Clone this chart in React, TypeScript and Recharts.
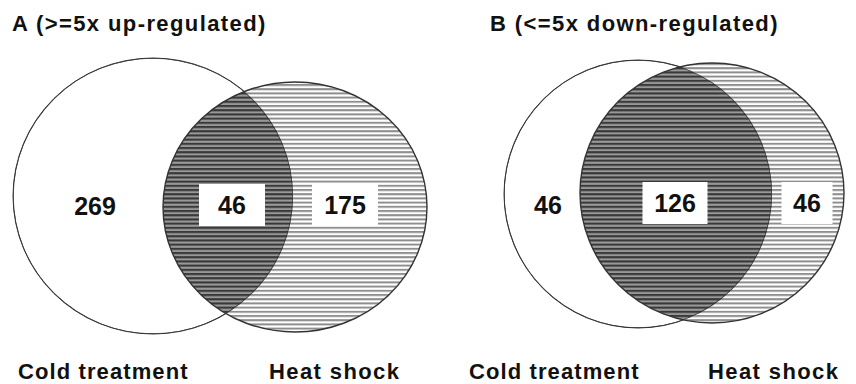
import React from 'react';
import { ScatterChart, Scatter, XAxis, YAxis } from 'recharts';

// set names and counts (cold only, both, heat only)
const panelTitles = ['A (>=5x up-regulated)', 'B (<=5x down-regulated)'];
const setNames = ['Cold treatment', 'Heat shock'];
const upCounts = [269, 46, 175];
const downCounts = [46, 126, 46];
const panelCounts = [upCounts, downCounts];

const W = 856;
const H = 384;
const FONT = '"Liberation Sans", Arial, Helvetica, sans-serif';

// layout of each panel, in chart units (1 unit = 1px)
const layout = [
  {
    cold: { cx: 153, cy: 196, rx: 140, ry: 138 },
    heat: { cx: 295, cy: 207, rx: 132, ry: 125 },
    labels: [
      { x: 95, y: 206, box: 0 },
      { x: 232, y: 205, box: 66 },
      { x: 345, y: 205, box: 66 },
    ],
    title: { x: 12, y: 31 },
    names: [{ x: 18 }, { x: 269 }],
  },
  {
    cold: { cx: 638, cy: 194, rx: 134, ry: 134 },
    heat: { cx: 712, cy: 193, rx: 132, ry: 130 },
    labels: [
      { x: 548, y: 205, box: 0 },
      { x: 675, y: 203, box: 65 },
      { x: 807, y: 203, box: 51 },
    ],
    title: { x: 490, y: 31 },
    names: [{ x: 469 }, { x: 708 }],
  },
];

const circleData = layout.flatMap((p, i) => [
  { x: p.cold.cx, y: p.cold.cy, panel: i, role: 'cold' },
  { x: p.heat.cx, y: p.heat.cy, panel: i, role: 'heat' },
]);

const countData = layout.flatMap((p, i) =>
  p.labels.map((l, j) => ({ x: l.x, y: l.y, value: panelCounts[i][j], box: l.box }))
);

const textData = layout.flatMap((p, i) => [
  { x: p.title.x, y: p.title.y, text: panelTitles[i], size: 22, spacing: 1.4 },
  { x: p.names[0].x, y: 379, text: setNames[0], size: 22, spacing: 1.1 },
  { x: p.names[1].x, y: 379, text: setNames[1], size: 22, spacing: 1.4 },
]);

const Patterns = () => (
  <defs>
    <pattern id="stripeLight" patternUnits="userSpaceOnUse" width="8" height="4.2">
      <rect x="0" y="0" width="8" height="4.2" fill="#ffffff" />
      <rect x="0" y="0" width="8" height="2" fill="#8e8e8e" />
    </pattern>
    <pattern id="stripeDark" patternUnits="userSpaceOnUse" width="8" height="4.2">
      <rect x="0" y="0" width="8" height="4.2" fill="#999999" />
      <rect x="0" y="0" width="8" height="2.1" fill="#383838" />
    </pattern>
  </defs>
);

const CircleShape = (props: any) => {
  const { cx, cy, payload } = props;
  const p = layout[payload.panel];
  if (payload.role === 'cold') {
    return (
      <g>
        {payload.panel === 0 && <Patterns />}
        <ellipse cx={cx} cy={cy} rx={p.cold.rx} ry={p.cold.ry} fill="#fff" stroke="#333" strokeWidth={1} />
      </g>
    );
  }
  const ox = cx + (p.cold.cx - p.heat.cx);
  const oy = cy + (p.cold.cy - p.heat.cy);
  const clipId = `clipCold${payload.panel}`;
  return (
    <g>
      <defs>
        <clipPath id={clipId}>
          <ellipse cx={ox} cy={oy} rx={p.cold.rx} ry={p.cold.ry} />
        </clipPath>
      </defs>
      <ellipse cx={cx} cy={cy} rx={p.heat.rx} ry={p.heat.ry} fill="url(#stripeLight)" />
      <ellipse cx={cx} cy={cy} rx={p.heat.rx} ry={p.heat.ry} fill="url(#stripeDark)" clipPath={`url(#${clipId})`} />
      <ellipse cx={ox} cy={oy} rx={p.cold.rx} ry={p.cold.ry} fill="none" stroke="#333" strokeWidth={1.4} clipPath={`url(#${clipId})`} />
      <ellipse cx={cx} cy={cy} rx={p.heat.rx} ry={p.heat.ry} fill="none" stroke="#333" strokeWidth={1.4} />
    </g>
  );
};

const CountShape = (props: any) => {
  const { cx, cy, payload } = props;
  return (
    <g>
      {payload.box > 0 && (
        <rect x={cx - payload.box / 2} y={cy - 21} width={payload.box} height={42} fill="#fff" />
      )}
      <text x={cx} y={cy + 9} textAnchor="middle" fontFamily={FONT} fontWeight="bold" fontSize={25} fill="#111">
        {payload.value}
      </text>
    </g>
  );
};

const TextShape = (props: any) => {
  const { cx, cy, payload } = props;
  return (
    <text
      x={cx}
      y={cy}
      textAnchor="start"
      fontFamily={FONT}
      fontWeight="bold"
      fontSize={payload.size}
      letterSpacing={payload.spacing}
      fill="#111"
    >
      {payload.text}
    </text>
  );
};

export default function App() {
  return (
    <div style={{ position: 'absolute', left: 0, top: 0, background: '#fff' }}>
      <ScatterChart width={W} height={H} margin={{ top: 0, right: 0, bottom: 0, left: 0 }}>
        <XAxis type="number" dataKey="x" domain={[0, W]} hide allowDataOverflow />
        <YAxis type="number" dataKey="y" domain={[0, H]} reversed hide allowDataOverflow />
        <Scatter data={circleData} shape={CircleShape} isAnimationActive={false} />
        <Scatter data={countData} shape={CountShape} isAnimationActive={false} />
        <Scatter data={textData} shape={TextShape} isAnimationActive={false} />
      </ScatterChart>
    </div>
  );
}
